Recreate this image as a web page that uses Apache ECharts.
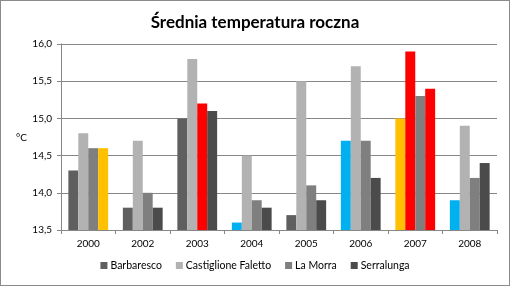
<!DOCTYPE html>
<html>
<head>
<meta charset="utf-8">
<script src="https://cdn.jsdelivr.net/npm/echarts@6/dist/echarts.min.js"></script>
<style>
  html, body { margin: 0; padding: 0; background: #fff; }
  #chart { width: 510px; height: 286px; box-sizing: border-box; border: 1px solid #8a8a8a; }
</style>
</head>
<body>
<div id="chart"></div>
<script>
// data
const years = ['2000', '2002', '2003', '2004', '2005', '2006', '2007', '2008'];
const barbaresco = [14.3, 13.8, 15.0, 13.6, 13.7, 14.7, 15.0, 13.9];
const castiglione = [14.8, 14.7, 15.8, 14.5, 15.5, 15.7, 15.9, 14.9];
const laMorra = [14.6, 14.0, 15.2, 13.9, 14.1, 14.7, 15.3, 14.2];
const serralunga = [14.6, 13.8, 15.1, 13.8, 13.9, 14.2, 15.4, 14.4];
const seriesNames = ['Barbaresco', 'Castiglione Faletto', 'La Morra', 'Serralunga'];
const seriesColors = ['#5f5f5f', '#b2b2b2', '#7f7f7f', '#4b4b4b'];

// single bars highlighted in the original: [series index, year index, colour]
const highlights = [
  [3, 0, '#ffc000'],
  [2, 2, '#ff0000'],
  [0, 3, '#00b0f0'],
  [0, 5, '#00b0f0'],
  [0, 6, '#ffc000'],
  [1, 6, '#ff0000'],
  [3, 6, '#ff0000'],
  [0, 7, '#00b0f0'],
];

const allValues = [barbaresco, castiglione, laMorra, serralunga];

let myChart = echarts.init(document.getElementById('chart'));
const font = 'Lato, "Open Sans", sans-serif';

function buildData(si) {
  return allValues[si].map((v, i) => {
    let h = highlights.find((x) => x[0] === si && x[1] === i);
    if (h) {
      return { value: v, itemStyle: { color: h[2] } };
    }
    return v;
  });
}

let option = {
  animation: false,
  backgroundColor: '#fff',
  title: {
    text: 'Średnia temperatura roczna',
    left: 'center',
    top: 8,
    textStyle: { fontFamily: font, fontSize: 17, fontWeight: 'bold', color: '#000' },
  },
  grid: { left: 60, right: 12, top: 43, bottom: 55 },
  legend: {
    bottom: 9,
    left: 'center',
    itemWidth: 7,
    itemHeight: 7,
    itemGap: 14,
    icon: 'rect',
    textStyle: { fontFamily: font, fontSize: 10.5, color: '#000', padding: [0, 0, 0, -2] },
    data: seriesNames,
  },
  graphic: [
    {
      type: 'text',
      left: 15,
      top: 132,
      style: { text: '°C', fontFamily: font, fontSize: 10, fill: '#000' },
    },
  ],
  xAxis: {
    type: 'category',
    data: years,
    axisLine: { lineStyle: { color: '#878787' } },
    axisTick: { show: true, length: 4, lineStyle: { color: '#878787' } },
    axisLabel: { fontFamily: font, fontSize: 10, color: '#000', margin: 9 },
  },
  yAxis: {
    type: 'value',
    min: 13.5,
    max: 16,
    interval: 0.5,
    axisLine: { show: true, lineStyle: { color: '#878787' } },
    axisTick: { show: true, length: 4, lineStyle: { color: '#878787' } },
    splitLine: { lineStyle: { color: '#878787', width: 1 } },
    axisLabel: {
      fontFamily: font,
      fontSize: 10,
      color: '#000',
      margin: 9,
      formatter: (v) => v.toFixed(1).replace('.', ','),
    },
  },
  series: seriesNames.map((name, si) => ({
    name: name,
    type: 'bar',
    data: buildData(si),
    itemStyle: { color: seriesColors[si] },
    barGap: '0%',
    barCategoryGap: '27%',
  })),
};

myChart.setOption(option);
</script>
</body>
</html>
